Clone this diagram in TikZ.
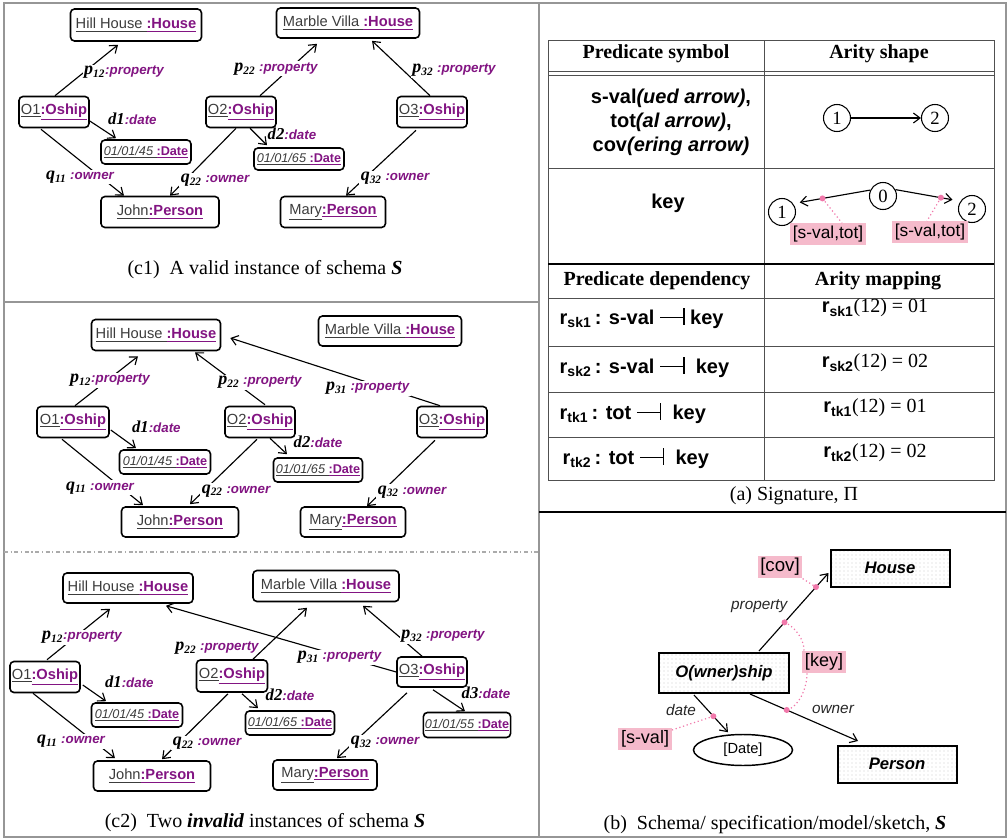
\documentclass[tikz,border=0pt]{standalone}
\usepackage{fontspec}
\setmainfont{Liberation Serif}
\setsansfont{Liberation Sans}
\usetikzlibrary{arrows.meta,calc,patterns,shapes.geometric}
\definecolor{purp}{RGB}{130,20,130}
\definecolor{igray}{RGB}{60,60,60}
\definecolor{pinkf}{RGB}{245,186,203}
\definecolor{pinkd}{RGB}{240,120,170}
\definecolor{framec}{RGB}{150,150,150}
\definecolor{tblc}{RGB}{80,80,80}
\newcommand\iname[2]{{\color{igray}\underline{#1}}{\color{purp}\bfseries\underline{#2}}}
\newcommand\dname[2]{{\color{igray}\itshape\underline{#1}}{\color{purp}\bfseries\underline{#2}}}
\newcommand\elab[3]{{\rmfamily\bfseries\itshape\fontsize{13.5}{15}\selectfont #1\textsubscript{\fontsize{8.5}{9}\selectfont #2}}{\color{purp}\sffamily\bfseries\itshape\fontsize{10}{12}\selectfont #3}}
\newcommand\dlab[2]{{\rmfamily\bfseries\itshape\fontsize{12.5}{14}\selectfont #1}{\color{purp}\sffamily\bfseries\itshape\fontsize{10}{12}\selectfont #2}}
\newcommand\depsym{\rule[0.32em]{1.15em}{0.7pt}\rule[-0.02em]{1.2pt}{0.85em}}
\begin{document}
\begin{tikzpicture}[x=0.75pt,y=-0.75pt,
  inst/.style={draw, line width=1.2pt, rounded corners=3pt, inner sep=1pt, font=\sffamily\fontsize{11}{13}\selectfont},
  dbox/.style={inst, font=\sffamily\fontsize{9.5}{11}\selectfont},
  bw/.style={minimum width=#1*0.75pt},
  bh/.style={minimum height=#1*0.75pt},
  edge/.style={line width=0.85pt, -{Straight Barb[length=5pt,width=7.5pt,line width=0.85pt]}},
  lab/.style={fill=white, inner sep=1pt},
  nlab/.style={inner sep=1pt},
  lsh/.style 2 args={xshift=#1*0.75pt, yshift=-#2*0.75pt},
  tbl/.style={draw=tblc, line width=0.7pt},
  circ/.style={circle, draw, line width=0.8pt, minimum size=27*0.75pt, inner sep=0pt, font=\rmfamily\fontsize{14}{16}\selectfont},
  plab/.style={fill=pinkf, inner sep=2pt, text=black, font=\sffamily\fontsize{13.5}{15}\selectfont},
  pinkdot/.style={draw=pinkd, line width=0.9pt, dotted},
  sbox/.style={draw, line width=1.5pt, pattern=dots, pattern color=gray!40, font=\sffamily\bfseries\itshape\fontsize{12.5}{14}\selectfont},
  slab/.style={inner sep=1pt, text=black!85, font=\sffamily\itshape\fontsize{11.5}{13}\selectfont},
  capt/.style={font=\rmfamily\fontsize{15}{18}\selectfont},
  th/.style={font=\rmfamily\bfseries\fontsize{15}{18}\selectfont},
  tt/.style={font=\sffamily\bfseries\fontsize{15}{18}\selectfont}
]
\useasboundingbox (0,0) rectangle (1008,839);

% frame and separators
\draw[framec, line width=0.8pt] (4,3) rectangle (1006,837);
\draw[framec, line width=0.8pt] (539,3) -- (539,837);
\draw[framec, line width=0.8pt] (4,302) -- (539,302);
\draw[framec!80, line width=0.8pt, dash dot] (4,552) -- (539,552);
\draw[line width=1.8pt] (539,512) -- (1006,512);

% ================= c1 =================
\node[inst,bw=131,bh=32] (hA) at (136,25) {\iname{Hill House }{:House}};
\node[inst,bw=143,bh=30] (mA) at (348,23) {\iname{Marble Villa }{:House}};
\node[inst,bw=70,bh=31] (oA1) at (54,112) {\iname{O1}{:Oship}};
\node[inst,bw=70,bh=31] (oA2) at (241,112) {\iname{O2}{:Oship}};
\node[inst,bw=70,bh=31] (oA3) at (432,112) {\iname{O3}{:Oship}};
\node[dbox,bw=90,bh=24] (dA1) at (146,152) {\dname{01/01/45 }{:Date}};
\node[dbox,bw=90,bh=22] (dA2) at (299,159) {\dname{01/01/65 }{:Date}};
\node[inst,bw=118,bh=31] (jA) at (160,212) {\iname{John}{:Person}};
\node[inst,bw=105,bh=31] (yA) at (333,212) {\iname{Mary}{:Person}};

\draw[edge] ($(oA1.north)+(1,0)$) -- node[lab,lsh={37.5}{2}] {\elab{p}{12}{:property}} ($(hA.south)+(-18,3)$);
\draw[edge] ($(oA1.east)+(0,9)$) -- node[nlab,lsh={29.5}{-11}] {\dlab{d1}{:date}} ($(dA1.north)+(-30,-1)$);
\draw[edge] ($(oA1.south)+(-13,1)$) -- node[lab,lsh={-2.5}{14.5}] {\elab{q}{11}{\ :owner}} ($(jA.north)+(-36,0)$);
\draw[edge] ($(oA2.north)+(19,0)$) -- node[lab,lsh={-12.5}{-1}] {\elab{p}{22}{\ :property}} ($(mA.south)+(-31,5)$);
\draw[edge] ($(oA2.south)+(9,0)$) -- node[nlab,lsh={33.5}{-3}] {\dlab{d2}{:date}} ($(dA2.north)+(-32,-2)$);
\draw[edge] ($(oA2.south)+(-5,0)$) -- node[lab,lsh={12}{18}] {\elab{q}{22}{\ :owner}} ($(jA.north)+(10,0)$);
\draw[edge] ($(oA3.north)+(-2,0)$) -- node[lab,lsh={53}{2}] {\elab{p}{32}{\ :property}} ($(mA.south)+(24,2)$);
\draw[edge] ($(oA3.south)+(-16,2)$) -- node[lab,lsh={14}{15}] {\elab{q}{32}{\ :owner}} ($(yA.north)+(13,0)$);

\node[capt] (capc1) at (265,270) {(c1)\ \ A valid instance of schema \textbf{\textit{S}}};

% ================= c2 top =================
\node[inst,bw=129,bh=31] (hB) at (156,335) {\iname{Hill House }{:House}};
\node[inst,bw=143,bh=30] (mB) at (390,331) {\iname{Marble Villa }{:House}};
\node[inst,bw=72,bh=31] (oB1) at (73,422) {\iname{O1}{:Oship}};
\node[inst,bw=70,bh=31] (oB2) at (260,422) {\iname{O2}{:Oship}};
\node[inst,bw=70,bh=31] (oB3) at (452,422) {\iname{O3}{:Oship}};
\node[dbox,bw=91,bh=24] (dB1) at (165,462) {\dname{01/01/45 }{:Date}};
\node[dbox,bw=89,bh=24] (dB2) at (318,470) {\dname{01/01/65 }{:Date}};
\node[inst,bw=117,bh=30] (jB) at (180,522) {\iname{John}{:Person}};
\node[inst,bw=105,bh=30] (yB) at (353,522) {\iname{Mary}{:Person}};

\draw[edge] ($(oB1.north)+(2,0)$) -- node[lab,lsh={3.5}{-0.5}] {\elab{p}{12}{:property}} ($(hB.south)+(-18,5)$);
\draw[edge] ($(oB2.north)+(5,-1)$) -- node[lab,lsh={30}{4}] {\elab{p}{22}{\ :property}} ($(hB.south)+(39,1)$);
\draw[edge] ($(oB3.north)+(-12,0)$) -- node[lab,lsh={32.5}{16.5}] {\elab{p}{31}{\ :property}} ($(hB.east)+(9,3)$);
\draw[edge] ($(oB1.east)+(1,8)$) -- node[nlab,lsh={33}{-12.5}] {\dlab{d1}{:date}} ($(dB1.north)+(-29,-1)$);
\draw[edge] ($(oB2.south)+(10,0)$) -- node[nlab,lsh={39.5}{-4.5}] {\dlab{d2}{:date}} ($(dB2.north)+(-31,-3)$);
\draw[edge] ($(oB1.south)+(-11,1)$) -- node[lab,lsh={-2.5}{15.5}] {\elab{q}{11}{\ :owner}} ($(jB.north)+(-37,-1)$);
\draw[edge] ($(oB2.south)+(-3,1)$) -- node[lab,lsh={12.5}{19}] {\elab{q}{22}{\ :owner}} ($(jB.north)+(10,-2)$);
\draw[edge] ($(oB3.south)+(-17,2)$) -- node[lab,lsh={11}{18.5}] {\elab{q}{32}{\ :owner}} ($(yB.north)+(14,0)$);

% ================= c2 bottom =================
\node[inst,bw=130,bh=30] (hC) at (128,588) {\iname{Hill House }{:House}};
\node[inst,bw=146,bh=31] (mC) at (326,586) {\iname{Marble Villa }{:House}};
\node[inst,bw=70,bh=31] (oC1) at (45,677) {\iname{O1}{:Oship}};
\node[inst,bw=71,bh=32] (oC2) at (232,676) {\iname{O2}{:Oship}};
\node[inst,bw=70,bh=30] (oC3) at (432,672) {\iname{O3}{:Oship}};
\node[dbox,bw=91,bh=24] (dC1) at (137,715) {\dname{01/01/45 }{:Date}};
\node[dbox,bw=89,bh=24] (dC2) at (290,723) {\dname{01/01/65 }{:Date}};
\node[dbox,bw=85,bh=25] (dC3) at (467,725) {\dname{01/01/55 }{:Date}};
\node[inst,bw=117,bh=30] (jC) at (152,776) {\iname{John}{:Person}};
\node[inst,bw=104,bh=30] (yC) at (325,775) {\iname{Mary}{:Person}};

\draw[edge] ($(oC1.north)+(2,-1)$) -- node[lab,lsh={3.5}{3}] {\elab{p}{12}{:property}} ($(hC.south)+(-18,5)$);
\draw[edge] ($(oC2.north)+(21,0)$) -- node[nlab,lsh={-63}{14.5}] {\elab{p}{22}{\ :property}} ($(mC.south)+(-19,5.5)$);
\draw[edge] (oC3.west) -- node[lab,lsh={58.5}{18.5}] {\elab{p}{31}{\ :property}} ($(hC.south)+(38,2)$);
\draw[edge] ($(oC3.north)+(-10,0)$) -- node[lab,lsh={50.5}{5}] {\elab{p}{32}{\ :property}} ($(mC.south)+(37,3.5)$);
\draw[edge] ($(oC1.east)+(2,8)$) -- node[nlab,lsh={35}{-11.5}] {\dlab{d1}{:date}} ($(dC1.north)+(-31,-1)$);
\draw[edge] ($(oC2.south)+(10,1)$) -- node[nlab,lsh={40}{-6}] {\dlab{d2}{:date}} ($(dC2.north)+(-32,-2)$);
\draw[edge] ($(oC3.south)+(1,2)$) -- node[nlab,lsh={37}{-7.5}] {\dlab{d3}{:date}} ($(dC3.north)+(-2,-0.5)$);
\draw[edge] ($(oC1.south)+(-12,0)$) -- node[lab,lsh={-3}{15.5}] {\elab{q}{11}{\ :owner}} ($(jC.north)+(-37,-2)$);
\draw[edge] ($(oC2.south)+(-4,1)$) -- node[lab,lsh={12}{16.5}] {\elab{q}{22}{\ :owner}} ($(jC.north)+(10,-1)$);
\draw[edge] ($(oC3.south)+(-25,5)$) -- node[lab,lsh={13}{16.5}] {\elab{q}{32}{\ :owner}} ($(yC.north)+(12,-1)$);

\node[capt] (capc2) at (265,823) {(c2)\ \ Two \textbf{\textit{invalid}} instances of schema \textbf{\textit{S}}};

% ================= (a) signature table =================
\draw[tbl] (548,40) rectangle (994,480);
\draw[tbl] (548,71) -- (994,71);
\draw[tbl] (548,75) -- (994,75);
\draw[tbl] (764,40) -- (764,480);
\draw[tbl] (548,168) -- (994,168);
\draw[line width=1.5pt] (548,264) -- (994,264);
\draw[tbl] (548,298) -- (994,298);
\draw[tbl] (548,346) -- (994,346);
\draw[tbl] (548,392) -- (994,392);
\draw[tbl] (548,437) -- (994,437);

\node[th] (h1) at (656,54) {Predicate symbol};
\node[th] (h2) at (879,54) {Arity shape};
\node[tt, align=center] (r1) at (671,122) {s-val\textit{(ued arrow)},\\tot\textit{(al arrow)},\\cov\textit{(ering arrow)}};
\node[circ] (a1) at (837,118) {1};
\node[circ] (a2) at (935,118) {2};
\draw[edge] (a1) -- (a2);

\node[tt] (r2) at (668,203) {key};
\node[circ] (k0) at (883,196) {0};
\node[circ] (k1) at (782,212) {1};
\node[circ] (k2) at (972,209) {2};
\draw[edge, shorten >=5pt] (k0.155) -- coordinate[pos=0.62] (kd1) (k1.37);
\draw[edge, shorten >=6pt] (k0.27) -- coordinate[pos=0.7] (kd2) (k2.146);
\node[plab, font=\sffamily\fontsize{13}{15}\selectfont] (kl1) at (828,234) {[s-val,tot]};
\node[plab, font=\sffamily\fontsize{13}{15}\selectfont] (kl2) at (930,232) {[s-val,tot]};
\draw[pinkdot] (kd1) -- ($(kl1.north)+(14,0)$);
\draw[pinkdot] (kd2) -- ($(kl2.north)+(-3,0)$);
\fill[pinkd] (kd1) circle (3);
\fill[pinkd] (kd2) circle (3);

\node[th] (h3) at (657,281) {Predicate dependency};
\node[th] (h4) at (878,281) {Arity mapping};
\node[tt, anchor=west] (d1) at (555,318) {r\textsubscript{sk1}\,: s-val \depsym\ key};
\node[tt, anchor=west] (d2) at (555,367) {r\textsubscript{sk2}\,: s-val \depsym\ \ key};
\node[tt, anchor=west] (d3) at (555,413) {r\textsubscript{tk1}\,: tot \depsym\ \ key};
\node[tt, anchor=west] (d4) at (558,458) {r\textsubscript{tk2}\,: tot \depsym\ \ key};
\node[tt] (m1) at (875,308) {r\textsubscript{sk1}{\rmfamily\mdseries(12) = 01}};
\node[tt] (m2) at (875,363) {r\textsubscript{sk2}{\rmfamily\mdseries(12) = 02}};
\node[tt] (m3) at (875,408) {r\textsubscript{tk1}{\rmfamily\mdseries(12) = 01}};
\node[tt] (m4) at (875,453) {r\textsubscript{tk2}{\rmfamily\mdseries(12) = 02}};
\node[capt] (capa) at (794,496) {(a) Signature, Π};

% ================= (b) schema =================
\node[sbox,bw=119,bh=37] (sH) at (890,568) {House};
\node[sbox,bw=130,bh=40] (sO) at (724,673) {O(wner)ship};
\node[sbox,bw=119,bh=37] (sP) at (897,764) {Person};
\node[ellipse, draw, line width=1.1pt, bw=99, bh=31, inner sep=0pt, font=\sffamily\fontsize{11}{13}\selectfont] (sD) at (743,750) {[Date]};

\draw[edge] ($(sO.north)+(35,-1)$) -- coordinate[pos=0.367] (pd1) coordinate[pos=0.82] (pd2) node[slab,lsh={-34.5}{-5.5}] {property} ($(sH.west)+(-1,5)$);
\draw[edge] ($(sO.south)+(26,0)$) -- coordinate[pos=0.34] (od1) node[slab,lsh={29}{-8.5}] {owner} ($(sP.north)+(-39,-3.5)$);
\draw[edge] ($(sO.south)+(-30,1)$) -- coordinate[pos=0.57] (dd1) node[slab,lsh={-30}{-3.5}] {date} ($(sD.north)+(-15,-1.5)$);

\node[plab, font=\sffamily\fontsize{14}{16}\selectfont] (pc) at (780,567) {[cov]};
\node[plab] (pk) at (824,662) {[key]};
\node[plab] (ps) at (645,739) {[s-val]};

\draw[pinkdot] (pc.south east) -- (pd2);
\draw[pinkdot] (pd1) .. controls +(12,5) and +(0,-10) .. ($(pk.north west)+(2,0)$);
\draw[pinkdot] ($(pk.south west)+(5,0)$) .. controls +(0,15) and +(12,-3) .. (od1);
\draw[pinkdot] ($(ps.east)+(0,-9)$) -- (dd1);
\fill[pinkd] (pd1) circle (3);
\fill[pinkd] (pd2) circle (3);
\fill[pinkd] (od1) circle (3);
\fill[pinkd] (dd1) circle (3);

\node[capt] (capb) at (775,825) {(b)\ \ Schema/ specification/model/sketch, \textbf{\textit{S}}};
\end{tikzpicture}
\end{document}
